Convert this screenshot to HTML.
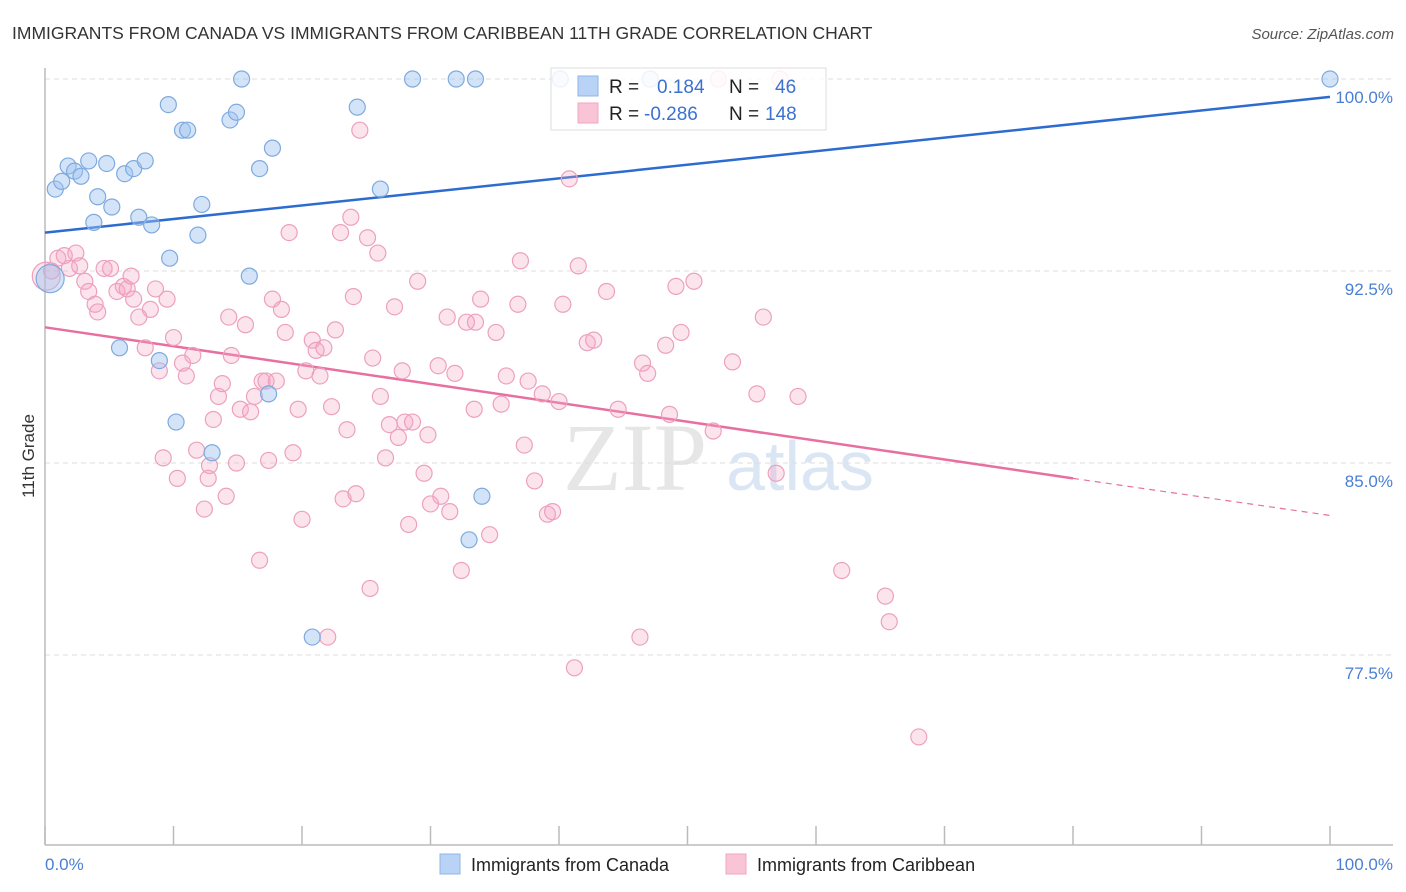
<!DOCTYPE html>
<html><head><meta charset="utf-8">
<style>
body{margin:0;background:#fff;font-family:"Liberation Sans",sans-serif;}
#wrap{position:relative;width:1406px;height:892px;overflow:hidden;}
</style></head>
<body>
<div id="wrap">
<svg id="chart" width="1406" height="892" style="position:absolute;left:0;top:0">
 <text x="12" y="39" font-size="17.5" fill="#333">IMMIGRANTS FROM CANADA VS IMMIGRANTS FROM CARIBBEAN 11TH GRADE CORRELATION CHART</text>
 <text x="1394" y="39" font-size="15" fill="#555" font-style="italic" text-anchor="end">Source: ZipAtlas.com</text>
 <text transform="translate(34,456) rotate(-90)" font-size="17" fill="#333" text-anchor="middle">11th Grade</text>
 <g>
  <text x="635" y="490" font-size="96" fill="#e6e6e6" text-anchor="middle" font-family="Liberation Serif,serif">ZIP</text>
  <text x="800" y="490" font-size="70" fill="#dbe6f5" text-anchor="middle">atlas</text>
 </g>
 <g id="grid"></g><g id="axes"></g><g id="lines"></g><g id="points"></g>
 <g>
  <rect x="551" y="68" width="275" height="62" fill="#fff" fill-opacity="0.85" stroke="#ddd"/>
  <rect x="578" y="76" width="20" height="20" fill="#b8d3f5" stroke="#8db5e8"/>
  <rect x="578" y="103" width="20" height="20" fill="#f9c5d6" stroke="#f0a6c0"/>
  <text x="609" y="93" font-size="19" fill="#222">R = </text><text x="657" y="93" font-size="19" fill="#3b72d0">0.184</text>
  <text x="729" y="93" font-size="19" fill="#222">N = </text><text x="775" y="93" font-size="19" fill="#3b72d0">46</text>
  <text x="609" y="120" font-size="19" fill="#222">R = </text><text x="644" y="120" font-size="19" fill="#3b72d0">-0.286</text>
  <text x="729" y="120" font-size="19" fill="#222">N = </text><text x="765" y="120" font-size="19" fill="#3b72d0">148</text>
 </g>
 <g>
  <rect x="440" y="854" width="20" height="20" fill="#b8d3f5" stroke="#8db5e8"/>
  <text x="471" y="871" font-size="18" fill="#222">Immigrants from Canada</text>
  <rect x="726" y="854" width="20" height="20" fill="#f9c5d6" stroke="#f0a6c0"/>
  <text x="757" y="871" font-size="18" fill="#222">Immigrants from Caribbean</text>
 </g>
</svg>
</div>
<script>
const yTicks=[100,92.5,85,77.5];
const yTickLabels=["100.0%","92.5%","85.0%","77.5%"];
const xTicks=[0,10,20,30,40,50,60,70,80,90,100];
const blueX=[0.8,1.3,1.8,2.3,2.8,3.4,4.1,3.8,4.8,5.2,6.2,6.9,7.8,7.3,8.3,9.6,10.7,11.1,9.7,12.2,11.9,14.4,14.9,15.3,16.7,17.7,15.9,5.8,8.9,10.2,13.0,17.4,20.8,24.3,26.1,28.6,32.0,33.5,34.0,33.0,40.1,47.1,100,0.4];
const blueY=[95.7,96.0,96.6,96.4,96.2,96.8,95.4,94.4,96.7,95.0,96.3,96.5,96.8,94.6,94.3,99.0,98.0,98.0,93.0,95.1,93.9,98.4,98.7,100,96.5,97.3,92.3,89.5,89.0,86.6,85.4,87.7,78.2,98.9,95.7,100,100,100,83.7,82.0,100,100,100,92.2];
const pinkX=[0.5,1.0,1.5,1.9,2.4,2.7,3.1,3.4,3.9,4.1,4.6,5.1,5.6,6.1,6.4,6.7,6.9,7.3,7.8,8.2,8.6,8.9,9.2,9.5,10.0,10.3,10.7,11.0,11.5,11.8,12.4,12.7,12.8,13.1,13.5,13.8,14.1,14.3,14.5,14.9,15.2,15.6,16.0,16.3,16.7,16.9,17.2,17.4,17.7,18.0,18.4,18.7,19.0,19.3,19.7,20.0,20.3,20.8,21.1,21.4,21.7,22.3,22.6,23.0,23.2,23.5,23.8,24.0,24.2,24.5,25.1,25.5,25.9,26.1,26.5,26.8,27.2,27.5,27.8,28.0,28.3,28.6,29.0,29.5,29.8,30.0,30.6,30.8,31.3,31.5,31.9,32.4,32.8,33.4,33.5,33.9,34.6,35.1,35.5,35.9,36.8,37.0,37.3,37.6,38.1,38.7,39.1,39.5,40.0,40.3,40.8,41.2,41.5,42.2,42.7,43.7,44.6,46.3,46.5,46.9,48.3,48.6,49.1,49.5,50.5,52.0,53.5,55.4,55.9,56.9,58.6,62.0,65.4,65.7,68.0,52.4,57.2,22.0,25.3,0.1];
const pinkY=[92.5,93.0,93.1,92.6,93.2,92.7,92.1,91.7,91.2,90.9,92.6,92.6,91.7,91.9,91.8,92.3,91.4,90.7,89.5,91.0,91.8,88.6,85.2,91.4,89.9,84.4,88.9,88.4,89.2,85.5,83.2,84.4,84.9,86.7,87.6,88.1,83.7,90.7,89.2,85.0,87.1,90.4,87.0,87.6,81.2,88.2,88.2,85.1,91.4,88.2,91.0,90.1,94.0,85.4,87.1,82.8,88.6,89.8,89.4,88.4,89.5,87.2,90.2,94.0,83.6,86.3,94.6,91.5,83.8,98.0,93.8,89.1,93.2,87.6,85.2,86.5,91.1,86.0,88.6,86.6,82.6,86.6,92.1,84.6,86.1,83.4,88.8,83.7,90.7,83.1,88.5,80.8,90.5,87.1,90.5,91.4,82.2,90.1,87.3,88.4,91.2,92.9,85.7,88.2,84.3,87.7,83.0,83.1,87.4,91.2,96.1,77.0,92.7,89.7,89.8,91.7,87.1,78.2,88.9,88.5,89.6,86.9,91.9,90.1,92.1,86.25,88.95,87.7,90.7,84.6,87.6,80.8,79.8,78.8,74.3,100,100,78.2,80.1,92.3];
const blueTrend=[[0,94.0],[100,99.3]];
const pinkTrend=[[0,90.3],[80,84.4],[100,82.95]];
const NS="http://www.w3.org/2000/svg";
const X=v=>45+v*12.85, Y=v=>79+(100-v)*25.6;
function mk(tag,attrs,parent){const e=document.createElementNS(NS,tag);for(const k in attrs)e.setAttribute(k,attrs[k]);parent.appendChild(e);return e;}
const grid=document.getElementById('grid'),axes=document.getElementById('axes'),lines=document.getElementById('lines'),pts=document.getElementById('points');
yTicks.forEach((t,i)=>{
 const l=mk('line',{x1:45,x2:1393,y1:Y(t),y2:Y(t),stroke:'#ddd','stroke-dasharray':'5,4'},grid);
 
 
 const tx=mk('text',{x:1393,y:Y(t)+24,'font-size':17,fill:'#4a7fd4','text-anchor':'end'},axes);
 tx.textContent=yTickLabels[i];
 
 
});
let a=mk('line',{x1:45,x2:45,y1:68,y2:845,stroke:'#bbb','stroke-width':1.5},axes);


a=mk('line',{x1:45,x2:1393,y1:845,y2:845,stroke:'#bbb','stroke-width':1.5},axes);


xTicks.forEach(t=>{
 const l=mk('line',{x1:X(t),x2:X(t),y1:826,y2:845,stroke:'#bbb','stroke-width':1.5},axes);
 
 
});
let t0=mk('text',{x:45,y:870,'font-size':17,fill:'#4a7fd4'},axes);t0.textContent='0.0%';


let t1=mk('text',{x:1393,y:870,'font-size':17,fill:'#4a7fd4','text-anchor':'end'},axes);t1.textContent='100.0%';


pinkX.forEach((x,i)=>{
 const big=(i===pinkX.length-1);
 const c=mk('circle',{cx:X(x),cy:Y(pinkY[i]),r:big?14:8,fill:'rgba(244,165,195,0.3)',stroke:'#eda0bd','stroke-width':1.2},pts);
 
 
});
blueX.forEach((x,i)=>{
 const big=(i===blueX.length-1);
 const c=mk('circle',{cx:X(x),cy:Y(blueY[i]),r:big?14:8,fill:'rgba(160,196,240,0.45)',stroke:'#7eaadf','stroke-width':1.2},pts);
 
 
});
let bl=mk('line',{x1:X(blueTrend[0][0]),y1:Y(blueTrend[0][1]),x2:X(blueTrend[1][0]),y2:Y(blueTrend[1][1]),stroke:'#2c6bd0','stroke-width':2.5},lines);


let pl=mk('line',{x1:X(pinkTrend[0][0]),y1:Y(pinkTrend[0][1]),x2:X(pinkTrend[1][0]),y2:Y(pinkTrend[1][1]),stroke:'#e8709e','stroke-width':2.5},lines);


let pd=mk('line',{x1:X(pinkTrend[1][0]),y1:Y(pinkTrend[1][1]),x2:X(pinkTrend[2][0]),y2:Y(pinkTrend[2][1]),stroke:'#e8709e','stroke-width':1.2,'stroke-dasharray':'6,5'},lines);


</script>
</body></html>
